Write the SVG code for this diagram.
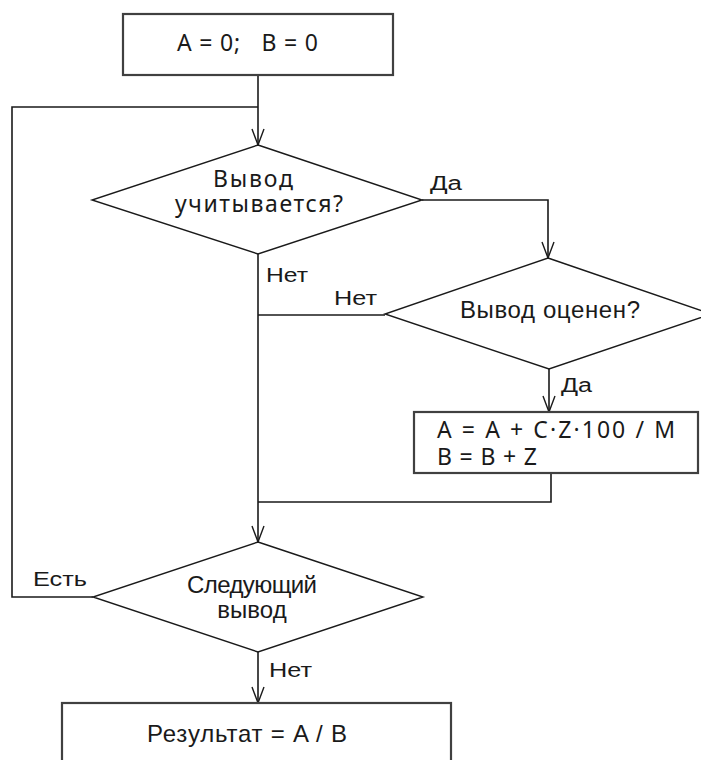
<svg xmlns="http://www.w3.org/2000/svg" width="701" height="760" viewBox="0 0 701 760">
<style>
.box{fill:#fff;stroke:#404040;stroke-width:2.2}
.dia{fill:#fff;stroke:#1a1a1a;stroke-width:1.4}
.con{fill:none;stroke:#1a1a1a;stroke-width:1.6}
.t1{font-family:"Noto Sans","Open Sans",sans-serif;font-size:23px;fill:#1a1a1a}
.t2{font-family:"Liberation Sans",Arial,sans-serif;font-size:24px;fill:#1a1a1a}
.lb{font-family:"Liberation Sans",Arial,sans-serif;font-size:20px;fill:#1a1a1a}
</style>
<defs>
<marker id="arr" markerUnits="userSpaceOnUse" orient="auto" refX="0" refY="0" markerWidth="20" markerHeight="20" overflow="visible">
<path d="M-16,-6 L0,0 L-16,6" fill="none" stroke="#1a1a1a" stroke-width="1.4"/>
</marker>
</defs>
<rect width="701" height="760" fill="#fff"/>
<g id="connectors">
<path class="con" d="M258,75 V145" marker-end="url(#arr)"/>
<path class="con" d="M93,597 H12 V107 H258"/>
<path class="con" d="M422,200 H548 V258" marker-end="url(#arr)"/>
<path class="con" d="M258,254 V542" marker-end="url(#arr)"/>
<path class="con" d="M385,315 H258"/>
<path class="con" d="M549,369 V412" marker-end="url(#arr)"/>
<path class="con" d="M551,473 V502 H258"/>
<path class="con" d="M258,652 V703" marker-end="url(#arr)"/>
<text class="lb" x="430" y="190" textLength="32" lengthAdjust="spacingAndGlyphs">Да</text>
<text class="lb" x="266" y="282" textLength="42" lengthAdjust="spacingAndGlyphs">Нет</text>
<text class="lb" x="334" y="305" textLength="43" lengthAdjust="spacingAndGlyphs">Нет</text>
<text class="lb" x="561" y="392" textLength="31" lengthAdjust="spacingAndGlyphs">Да</text>
<text class="lb" x="33" y="586" textLength="54" lengthAdjust="spacingAndGlyphs">Есть</text>
<text class="lb" x="269" y="677" textLength="43" lengthAdjust="spacingAndGlyphs">Нет</text>
</g>
<g id="init">
<rect class="box" x="123" y="14" width="270" height="61"/>
<text class="t1" x="177" y="51" xml:space="preserve" textLength="141">A = 0;   B = 0</text>
</g>
<g id="d1">
<polygon class="dia" points="258,145 422,200 258,254 92,200"/>
<text class="t1" x="213" y="187" textLength="80">Вывод</text>
<text class="t1" x="175" y="212" textLength="168">учитывается?</text>
</g>
<g id="d2">
<polygon class="dia" points="548,258 711,314 549,369 385,314"/>
<text class="t2" x="460" y="318" textLength="180">Вывод оценен?</text>
</g>
<g id="calc">
<rect class="box" x="414" y="412" width="284" height="61"/>
<text class="t1" x="437" y="438" textLength="238">A = A + C·Z·100 / M</text>
<text class="t1" x="437" y="465" textLength="100">B = B + Z</text>
</g>
<g id="d3">
<polygon class="dia" points="258,542 423,597 258,652 93,597"/>
<text class="t2" x="187" y="593" textLength="130">Следующий</text>
<text class="t2" x="252" y="618" text-anchor="middle">вывод</text>
</g>
<g id="result">
<rect class="box" x="62" y="703" width="389" height="70"/>
<text class="t2" x="147" y="742" textLength="200">Результат = A / B</text>
</g>
</svg>
